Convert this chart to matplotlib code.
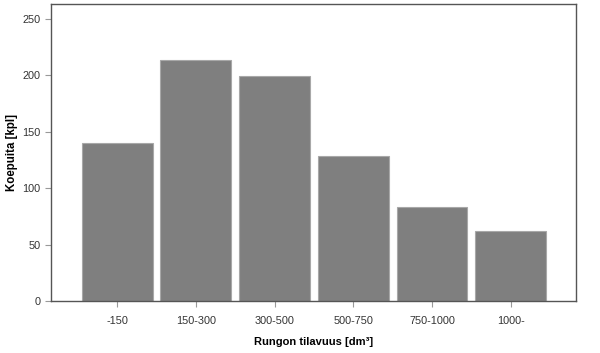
import matplotlib
matplotlib.use("Agg")
import matplotlib.pyplot as plt

plt.rcParams['font.family'] = ['Liberation Sans', 'DejaVu Sans']

categories = ["-150", "150-300", "300-500", "500-750", "750-1000", "1000-"]
counts = [140, 213, 199, 128, 83, 62]
yticks = [0, 50, 100, 150, 200, 250]

fig = plt.figure(figsize=(6, 3.53), dpi=100)
ax = fig.add_axes([0.085, 0.147, 0.875, 0.842])

x = range(len(categories))
ax.bar(x, counts, width=0.9, color="#7f7f7f", edgecolor="#a8a8a8", linewidth=0.8)

ax.set_xlim(-0.84, 5.83)
ax.set_ylim(0, 263)
ax.set_xticks(list(x))
ax.set_xticklabels(categories)
ax.set_yticks(yticks)

for s in ax.spines.values():
    s.set_color("#555555")
    s.set_linewidth(1.0)
ax.tick_params(axis="both", colors="#999999", labelcolor="#333333", labelsize=7.8, length=4, width=0.8)
ax.tick_params(axis="x", pad=7)

ax.set_xlabel("Rungon tilavuus [dm³]", fontsize=8, fontweight="bold", labelpad=8)
ax.set_ylabel("Koepuita [kpl]", fontsize=8.3, fontweight="bold")
ax.yaxis.set_label_coords(-0.062, 0.5)

fig.savefig("out.png", dpi=100)
